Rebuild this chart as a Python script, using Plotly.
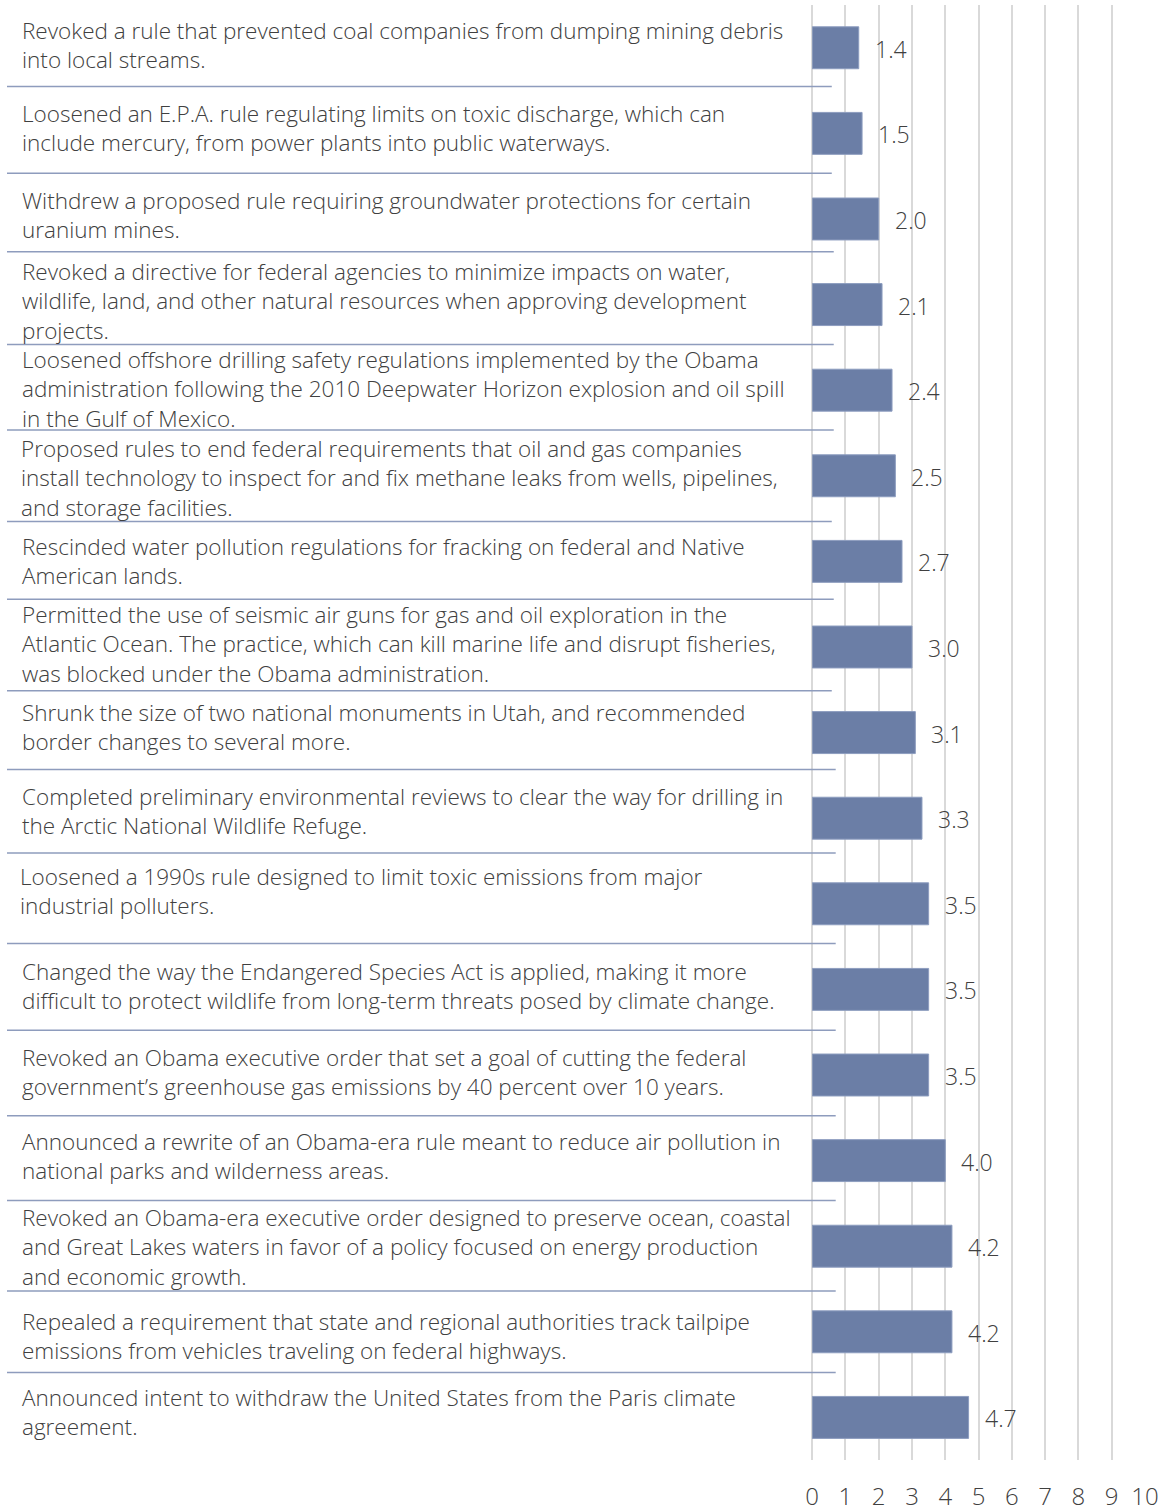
import plotly.graph_objects as go

labels = [
    "Revoked a rule that prevented coal companies from dumping mining debris<br>into local streams.",
    "Loosened an E.P.A. rule regulating limits on toxic discharge, which can<br>include mercury, from power plants into public waterways.",
    "Withdrew a proposed rule requiring groundwater protections for certain<br>uranium mines.",
    "Revoked a directive for federal agencies to minimize impacts on water,<br>wildlife, land, and other natural resources when approving development<br>projects.",
    "Loosened offshore drilling safety regulations implemented by the Obama<br>administration following the 2010 Deepwater Horizon explosion and oil spill<br>in the Gulf of Mexico.",
    "Proposed rules to end federal requirements that oil and gas companies<br>install technology to inspect for and fix methane leaks from wells, pipelines,<br>and storage facilities.",
    "Rescinded water pollution regulations for fracking on federal and Native<br>American lands.",
    "Permitted the use of seismic air guns for gas and oil exploration in the<br>Atlantic Ocean. The practice, which can kill marine life and disrupt fisheries,<br>was blocked under the Obama administration.",
    "Shrunk the size of two national monuments in Utah, and recommended<br>border changes to several more.",
    "Completed preliminary environmental reviews to clear the way for drilling in<br>the Arctic National Wildlife Refuge.",
    "Loosened a 1990s rule designed to limit toxic emissions from major<br>industrial polluters.",
    "Changed the way the Endangered Species Act is applied, making it more<br>difficult to protect wildlife from long-term threats posed by climate change.",
    "Revoked an Obama executive order that set a goal of cutting the federal<br>government’s greenhouse gas emissions by 40 percent over 10 years.",
    "Announced a rewrite of an Obama-era rule meant to reduce air pollution in<br>national parks and wilderness areas.",
    "Revoked an Obama-era executive order designed to preserve ocean, coastal<br>and Great Lakes waters in favor of a policy focused on energy production<br>and economic growth.",
    "Repealed a requirement that state and regional authorities track tailpipe<br>emissions from vehicles traveling on federal highways.",
    "Announced intent to withdraw the United States from the Paris climate<br>agreement.",
]
values = [1.4, 1.5, 2.0, 2.1, 2.4, 2.5, 2.7, 3.0, 3.1, 3.3, 3.5, 3.5, 3.5, 4.0, 4.2, 4.2, 4.7]
tick_vals = [0, 1, 2, 3, 4, 5, 6, 7, 8, 9, 10]

categories = [l.replace("<br>", " ") for l in labels]

W, H = 1159, 1512
FONT = "Open Sans"
TEXT_COLOR = "#404040"
BAR_COLOR = "#6b7ea6"
SEP_COLOR = "#8e9cbd"


def px(s):
    return min(max(s, 0), W) / W


def py(s):
    return 1 - s / H


# layout helpers (pixel positions of the decorations, corrected for the rendered offset)
label_yshift = [3, 5, 4, 4, 1, -2, 0, 3, 6, 7, 13, 3, 3, 5, -1, -4, 5]
label_x = [13, 13, 13, 13, 13, 12, 13, 13, 13, 13, 11, 13, 13, 13, 13, 13, 13]
sep_y = [87, 174, 253, 346, 432, 524, 602, 694, 773, 857, 948, 1035, 1121, 1206, 1297, 1379]
sep_x0 = [0, 0, 0, 0, 0, 0, 0, 0, 0, 0, 0, 0, 0, 0, 0, 0]
sep_x1 = [840, 840, 842, 842, 842, 840, 842, 840, 844, 844, 844, 844, 844, 844, 844, 844]

fig = go.Figure()
fig.add_trace(go.Bar(
    x=values, y=categories, orientation="h",
    marker=dict(color=BAR_COLOR, line=dict(color="#8d9dbf", width=1)),
    width=0.49, hoverinfo="skip",
))

annotations = []
for cat, v in zip(categories, values):
    annotations.append(dict(
        x=v, y=cat, xref="x", yref="y", text=f"{v:.1f}", showarrow=False,
        xanchor="left", yanchor="middle", xshift=14, yshift=-1,
        font=dict(family=FONT, size=23, color=TEXT_COLOR, weight=300),
    ))
for i, (cat, lab) in enumerate(zip(categories, labels)):
    annotations.append(dict(
        x=px(label_x[i]), y=cat, xref="paper", yref="y", text=lab, showarrow=False,
        xanchor="left", yanchor="middle", align="left", yshift=label_yshift[i],
        font=dict(family=FONT, size=22.5, color=TEXT_COLOR, weight=300),
    ))

shapes = []
for y, x0, x1 in zip(sep_y, sep_x0, sep_x1):
    shapes.append(dict(
        type="line", xref="paper", yref="paper",
        x0=px(x0), x1=px(x1), y0=py(y), y1=py(y),
        line=dict(color=SEP_COLOR, width=1.5), layer="above",
    ))

fig.update_layout(
    width=W, height=H,
    margin=dict(l=0, r=0, t=0, b=0),
    paper_bgcolor="white", plot_bgcolor="white",
    showlegend=False,
    annotations=annotations,
    shapes=shapes,
    font=dict(family=FONT, color=TEXT_COLOR),
    xaxis=dict(
        domain=[px(820), px(1159)], range=[0, 10],
        tickvals=tick_vals, showgrid=True, gridcolor="#d9d9d9", gridwidth=1.5,
        zeroline=True, zerolinecolor="#d9d9d9", zerolinewidth=1.5,
        showline=False, ticks="", ticklabelstandoff=20,
        ticklabeloverflow="allow",
        tickfont=dict(family=FONT, size=24, color=TEXT_COLOR, weight=300),
        fixedrange=True,
    ),
    yaxis=dict(
        domain=[py(1467), py(5)],
        categoryorder="array", categoryarray=categories,
        autorange="reversed", showticklabels=False, showgrid=False,
        zeroline=False, showline=False, ticks="", fixedrange=True,
    ),
)

fig.write_html(
    "out.html",
    config={"displayModeBar": False},
    post_script=(
        "document.documentElement.style.overflow='hidden';"
        "document.body.style.margin='0';"
        "document.body.style.overflow='hidden';"
        "var gd=document.getElementById('{plot_id}');"
        "gd.style.overflow='hidden';"
    ),
)
